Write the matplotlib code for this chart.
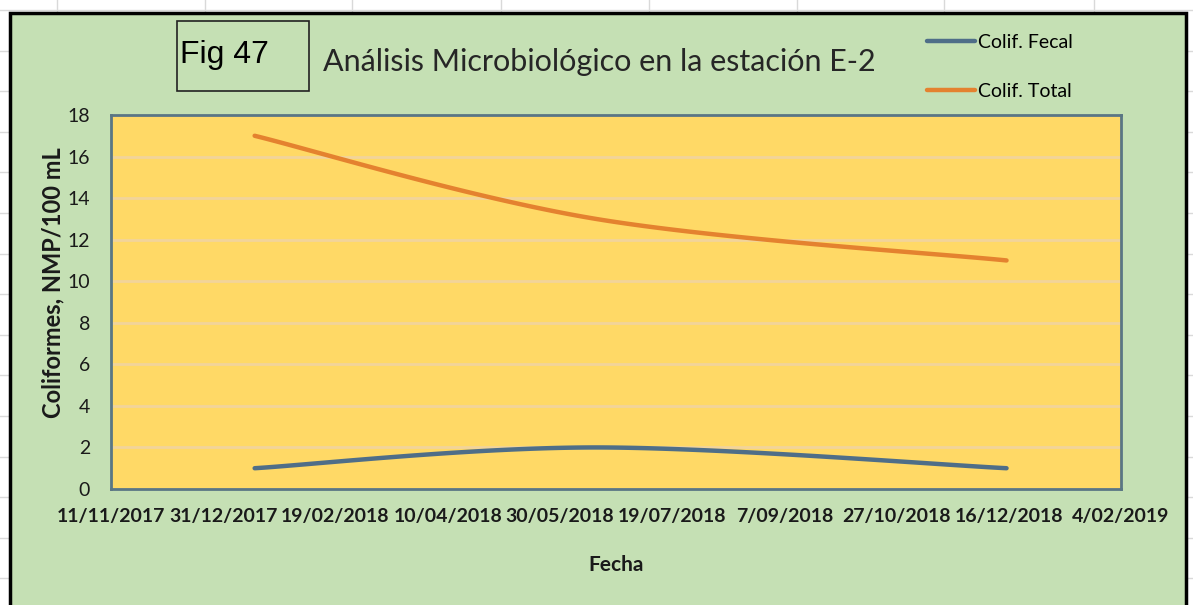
import numpy as np
import matplotlib
matplotlib.use("Agg")
import matplotlib.pyplot as plt
import matplotlib.dates as mdates
from matplotlib.patches import Rectangle
from matplotlib.lines import Line2D
from datetime import datetime

# sampling dates and values
fechas = ["2018-01-14", "2018-06-15", "2018-12-15"]
colif_fecal = [1, 2, 1]
colif_total = [17, 13, 11]

tick_labels = ["11/11/2017", "31/12/2017", "19/02/2018", "10/04/2018", "30/05/2018",
               "19/07/2018", "7/09/2018", "27/10/2018", "16/12/2018", "4/02/2019"]
y_ticks = [0, 2, 4, 6, 8, 10, 12, 14, 16, 18]


def smooth(x, y, n=60):
    # Excel-style smoothed line (bezier through the points)
    x = np.asarray(x, float)
    y = np.asarray(y, float)
    P = np.column_stack([x, y])
    out = []
    for i in range(len(P) - 1):
        p0 = P[i - 1] if i > 0 else P[i]
        p1 = P[i]
        p2 = P[i + 1]
        p3 = P[i + 2] if i + 2 < len(P) else P[i + 1]
        c1 = p1 + (p2 - p0) / 6
        c2 = p2 - (p3 - p1) / 6
        t = np.linspace(0, 1, n)[:, None]
        seg = (1 - t) ** 3 * p1 + 3 * (1 - t) ** 2 * t * c1 + 3 * (1 - t) * t ** 2 * c2 + t ** 3 * p2
        out.append(seg)
    s = np.vstack(out)
    return s[:, 0], s[:, 1]


xd = mdates.date2num([datetime.strptime(d, "%Y-%m-%d") for d in fechas])
xt = mdates.date2num([datetime.strptime(t, "%d/%m/%Y") for t in tick_labels])

W, H = 1193, 605
fig = plt.figure(figsize=(W / 100, H / 100), dpi=100)
fig.patch.set_facecolor("white")

# spreadsheet grid behind the chart
for gx in [57, 205, 352, 501, 649, 797, 944, 1094]:
    fig.add_artist(Line2D([gx / W, gx / W], [0, 1], color="#d9d9d9", lw=1, zorder=0))
for gy in np.arange(10, H, 40.6):
    fig.add_artist(Line2D([0, 1], [1 - gy / H, 1 - gy / H], color="#d9d9d9", lw=1, zorder=0))

# chart area
fig.add_artist(Rectangle((10 / W, -0.02), (1186 - 10) / W, 0.02 + (H - 13) / H,
                         facecolor="#C5E0B4", edgecolor="black", lw=2.5, zorder=1))

L, R, T, B = 111, 1121, 115, 489
ax = fig.add_axes([L / W, (H - B) / H, (R - L) / W, (B - T) / H], zorder=2)
ax.set_facecolor("#FFD966")
for s in ax.spines.values():
    s.set_color("#5A7684")
    s.set_linewidth(2)

ax.set_xlim(xt[0], xt[-1])
ax.set_ylim(0, 18)
ax.set_yticks(y_ticks)
ax.set_xticks(xt)
ax.set_xticklabels(tick_labels, fontsize=14, fontweight="bold", family="Lato", color="#1a1a1a")
ax.set_yticklabels([str(v) for v in y_ticks], fontsize=14, family="Lato", color="#1a1a1a")
ax.tick_params(axis="x", length=0, pad=14)
ax.tick_params(axis="y", length=0, pad=15)
ax.grid(axis="y", color="#F2D49A", lw=2)
ax.set_axisbelow(True)

sx, sy = smooth(xd, colif_fecal)
ax.plot(sx, sy, color="#4F6E88", lw=3.2, solid_capstyle="round", label="Colif. Fecal")
sx, sy = smooth(xd, colif_total)
ax.plot(sx, sy, color="#E4822F", lw=3.2, solid_capstyle="round", label="Colif. Total")

ax.set_xlabel("Fecha", fontsize=15, fontweight="bold", family="Lato", color="#1a1a1a")
ax.set_ylabel("Coliformes, NMP/100 mL", fontsize=17, fontweight="bold", family="Lato", color="#1a1a1a")
ax.xaxis.set_label_coords(0.5, (B - 565) / (B - T))
ax.xaxis.label.set_va("center")
ax.yaxis.set_label_coords((53 - L) / (R - L), (B - 283) / (B - T))
ax.yaxis.label.set_va("center")

fig.text(323 / W, 1 - 70.5 / H, "Análisis Microbiológico en la estación E-2", fontsize=22,
         family="Lato", va="baseline", ha="left", color="#262626", zorder=3)

# Fig 47 box
fig.add_artist(Rectangle((177 / W, 1 - 91 / H), (309 - 177) / W, (91 - 21) / H,
                         facecolor="none", edgecolor="#222222", lw=1.2, zorder=3))
fig.text(180 / W, 1 - 63 / H, "Fig 47", fontsize=23, family="Liberation Sans",
         va="baseline", ha="left", zorder=3)

fig.legend(loc="upper left", bbox_to_anchor=(919 / W, 1 - 26 / H), frameon=False,
           borderaxespad=0, prop={"family": "Lato", "size": 14}, handlelength=2.5,
           handletextpad=0.15, labelspacing=1.65)

fig.savefig("out.png", dpi=100)
